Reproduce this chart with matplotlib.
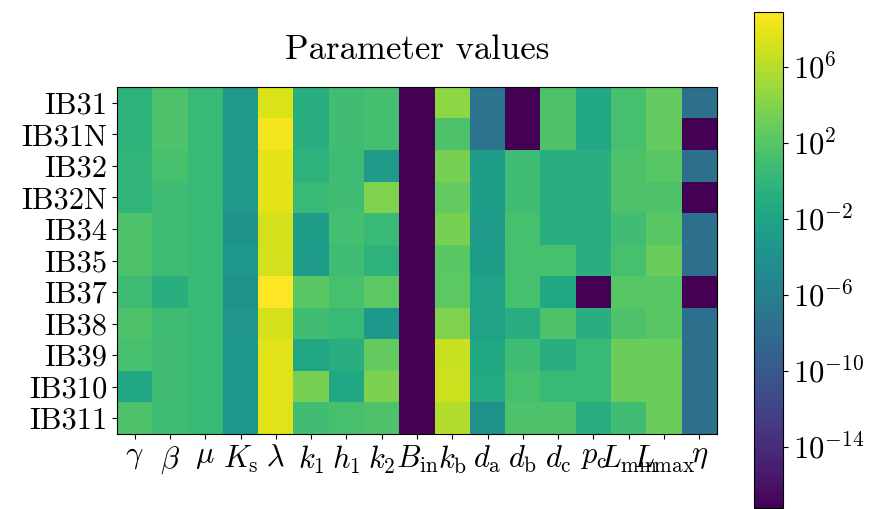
import matplotlib
matplotlib.use('Agg')
import matplotlib.pyplot as plt
import numpy as np
from matplotlib.colors import LogNorm

plt.rcParams['font.family'] = 'serif'
plt.rcParams['font.serif'] = ['cmr10']
plt.rcParams['mathtext.fontset'] = 'cm'
plt.rcParams['axes.formatter.use_mathtext'] = True

rows = ['IB31', 'IB31N', 'IB32', 'IB32N', 'IB34', 'IB35',
        'IB37', 'IB38', 'IB39', 'IB310', 'IB311']
params = [r'$\gamma$', r'$\beta$', r'$\mu$', r'$K_\mathrm{s}$', r'$\lambda$',
          r'$k_1$', r'$h_1$', r'$k_2$', r'$B_\mathrm{in}$', r'$k_\mathrm{b}$',
          r'$d_\mathrm{a}$', r'$d_\mathrm{b}$', r'$d_\mathrm{c}$', r'$p_\mathrm{c}$',
          r'$L_\mathrm{min}$', r'$L_\mathrm{max}$', r'$\eta$']

# log10 of the parameter values, one list per parameter (rows in order above)
MIN = -17.23
log_gamma = [-0.3, -0.3, -0.1, -0.1, 1.6, 1.6, 0.8, 1.6, 1.3, -1.6, 1.6]
log_beta = [1.6, 1.6, 1.3, 0.8, 0.8, 0.8, -0.8, 0.8, 0.9, 0.9, 0.8]
log_mu = [0.4, 0.4, 0.4, 0.4, 0.4, 0.4, 0.4, 0.4, 0.4, 0.4, 0.4]
log_Ks = [-3.1, -3.1, -3.1, -3.1, -3.9, -3.3, -3.9, -3.6, -3.4, -3.4, -3.4]
log_lambda = [7.4, 8.4, 7.85, 7.85, 7.2, 7.05, 8.88, 7.2, 7.7, 7.7, 7.7]
log_k1 = [-0.8, -0.8, -0.3, 0.4, -2.6, -2.9, 2.2, 0.9, -1.6, 3.5, 0.9]
log_h1 = [0.9, 0.9, 0.8, 0.9, 1.05, 0.8, 1.3, 0.4, -0.8, -1.6, 1.3]
log_k2 = [1.2, 1.2, -2.9, 3.8, 0.4, -0.3, 2.35, -3.3, 2.6, 3.7, 1.6]
log_Bin = [MIN] * 11
log_kb = [4.4, 1.6, 3.5, 2.6, 3.5, 2.2, 2.35, 3.8, 6.7, 6.9, 5.9]
log_da = [-7.3, -7.3, -2.6, -2.6, -2.9, -2.6, -2.2, -2.2, -1.6, -1.3, -3.9]
log_db = [MIN, MIN, 0.8, 0.8, 1.3, 1.3, 1.3, -1.0, 0.8, 1.3, 1.6]
log_dc = [1.6, 1.6, -0.8, -0.8, -0.8, 1.3, -1.6, 1.6, -0.8, 0.4, 1.6]
log_pc = [-1.6, -1.6, -0.8, -0.8, -0.8, -0.8, MIN, -0.8, 0.4, 0.4, -0.8]
log_Lmin = [1.3, 1.3, 1.6, 1.6, 0.9, 1.3, 2.1, 1.6, 2.9, 2.9, 0.9]
log_Lmax = [2.6, 2.6, 2.1, 1.6, 2.2, 2.9, 2.1, 2.2, 2.9, 2.9, 2.9]
log_eta = [-7.6, MIN, -7.6, MIN, -7.6, -7.6, MIN, -7.6, -7.6, -7.6, -7.6]

cols = [log_gamma, log_beta, log_mu, log_Ks, log_lambda, log_k1, log_h1, log_k2,
        log_Bin, log_kb, log_da, log_db, log_dc, log_pc, log_Lmin, log_Lmax, log_eta]
values = 10.0 ** np.array(cols).T

fig = plt.figure(figsize=(8.75, 5.09), dpi=100)
ax = fig.add_axes([0.1337, 0.1473, 0.6857, 0.6817])
cax = fig.add_axes([0.8617, 0.002, 0.0331, 0.9745])

im = ax.imshow(values, cmap='viridis', norm=LogNorm(), aspect='auto')
ax.set_xticks(range(len(params)), labels=params, fontsize=22)
ax.set_yticks(range(len(rows)), labels=rows, fontsize=22)
ax.set_title('Parameter values', fontsize=25, pad=20)

cb = fig.colorbar(im, cax=cax)
cb.set_ticks([1e-14, 1e-10, 1e-6, 1e-2, 1e2, 1e6])
cb.ax.tick_params(labelsize=22)
cb.minorticks_off()

fig.savefig('out.png', dpi=100)
